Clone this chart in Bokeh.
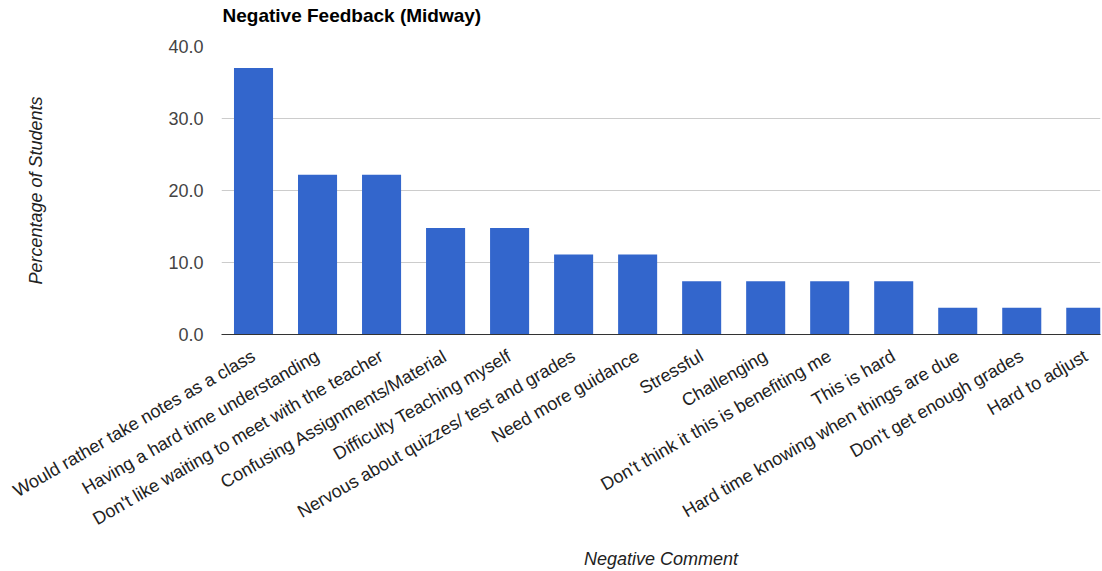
import math
from bokeh.plotting import figure
from bokeh.models import Range1d, FixedTicker, ColumnDataSource
from bokeh.embed import file_html
from bokeh.resources import INLINE

title_text = "Negative Feedback (Midway)"
categories = [
    "Would rather take notes as a class",
    "Having a hard time understanding",
    "Don't like waiting to meet with the teacher",
    "Confusing Assignments/Material",
    "Difficulty Teaching myself",
    "Nervous about quizzes/ test and grades",
    "Need more guidance",
    "Stressful",
    "Challenging",
    "Don't think it this is benefiting me",
    "This is hard",
    "Hard time knowing when things are due",
    "Don't get enough grades",
    "Hard to adjust",
]
values = [37.0, 22.2, 22.2, 14.8, 14.8, 11.1, 11.1, 7.4, 7.4, 7.4, 7.4, 3.7, 3.7, 3.7]
y_ticks = [0, 10, 20, 30, 40]

xs = list(range(len(categories)))
src = ColumnDataSource(dict(x=xs, top=values))

FONT = "Liberation Sans"

p = figure(width=1102, height=571, output_backend="svg", toolbar_location=None,
           x_range=Range1d(-0.5, 13.23), y_range=Range1d(0, 40),
           min_border_left=221, min_border_right=2, min_border_top=46, min_border_bottom=237)
p.outline_line_color = None
p.background_fill_color = "white"
p.border_fill_color = "white"

p.vbar(x="x", top="top", width=0.61, source=src, fill_color="#3366cc", line_color=None)

p.title.text = title_text + "\n "
p.title.text_font = FONT
p.title.text_font_size = "19px"
p.title.text_font_style = "bold"
p.title.text_color = "#000000"
p.title.text_line_height = 1.0
p.title.align = "left"
p.title.offset = 1
p.title.standoff = 0

# y axis
p.yaxis.ticker = FixedTicker(ticks=y_ticks)
p.yaxis.major_label_overrides = {t: f"{t:.1f}" for t in y_ticks}
p.yaxis.axis_line_color = None
p.yaxis.major_tick_line_color = None
p.yaxis.minor_tick_line_color = None
p.yaxis.major_label_standoff = 12
p.yaxis.major_label_text_font = FONT
p.yaxis.major_label_text_font_size = "18px"
p.yaxis.major_label_text_color = "#444444"
p.yaxis.axis_label = "Percentage of Students"
p.yaxis.axis_label_text_font = FONT
p.yaxis.axis_label_text_font_size = "18px"
p.yaxis.axis_label_text_font_style = "italic"
p.yaxis.axis_label_text_color = "#222222"
p.yaxis.axis_label_standoff = 119

p.ygrid.grid_line_color = "#cccccc"
p.ygrid.grid_line_width = 1
p.xgrid.grid_line_color = None

# x axis
p.xaxis.ticker = FixedTicker(ticks=xs)
p.xaxis.major_label_overrides = {i: c for i, c in enumerate(categories)}
p.xaxis.major_label_orientation = math.pi / 6
p.xaxis.axis_line_color = "#333333"
p.xaxis.axis_line_width = 1
p.xaxis.major_tick_line_color = None
p.xaxis.minor_tick_line_color = None
p.xaxis.major_label_standoff = 14
p.xaxis.major_label_text_font = FONT
p.xaxis.major_label_text_font_size = "18px"
p.xaxis.major_label_text_color = "#222222"
p.xaxis.axis_label = "Negative Comment"
p.xaxis.axis_label_text_font = FONT
p.xaxis.axis_label_text_font_size = "18px"
p.xaxis.axis_label_text_font_style = "italic"
p.xaxis.axis_label_text_color = "#222222"
p.xaxis.axis_label_standoff = 8

open("out.html", "w").write(file_html(p, INLINE))
